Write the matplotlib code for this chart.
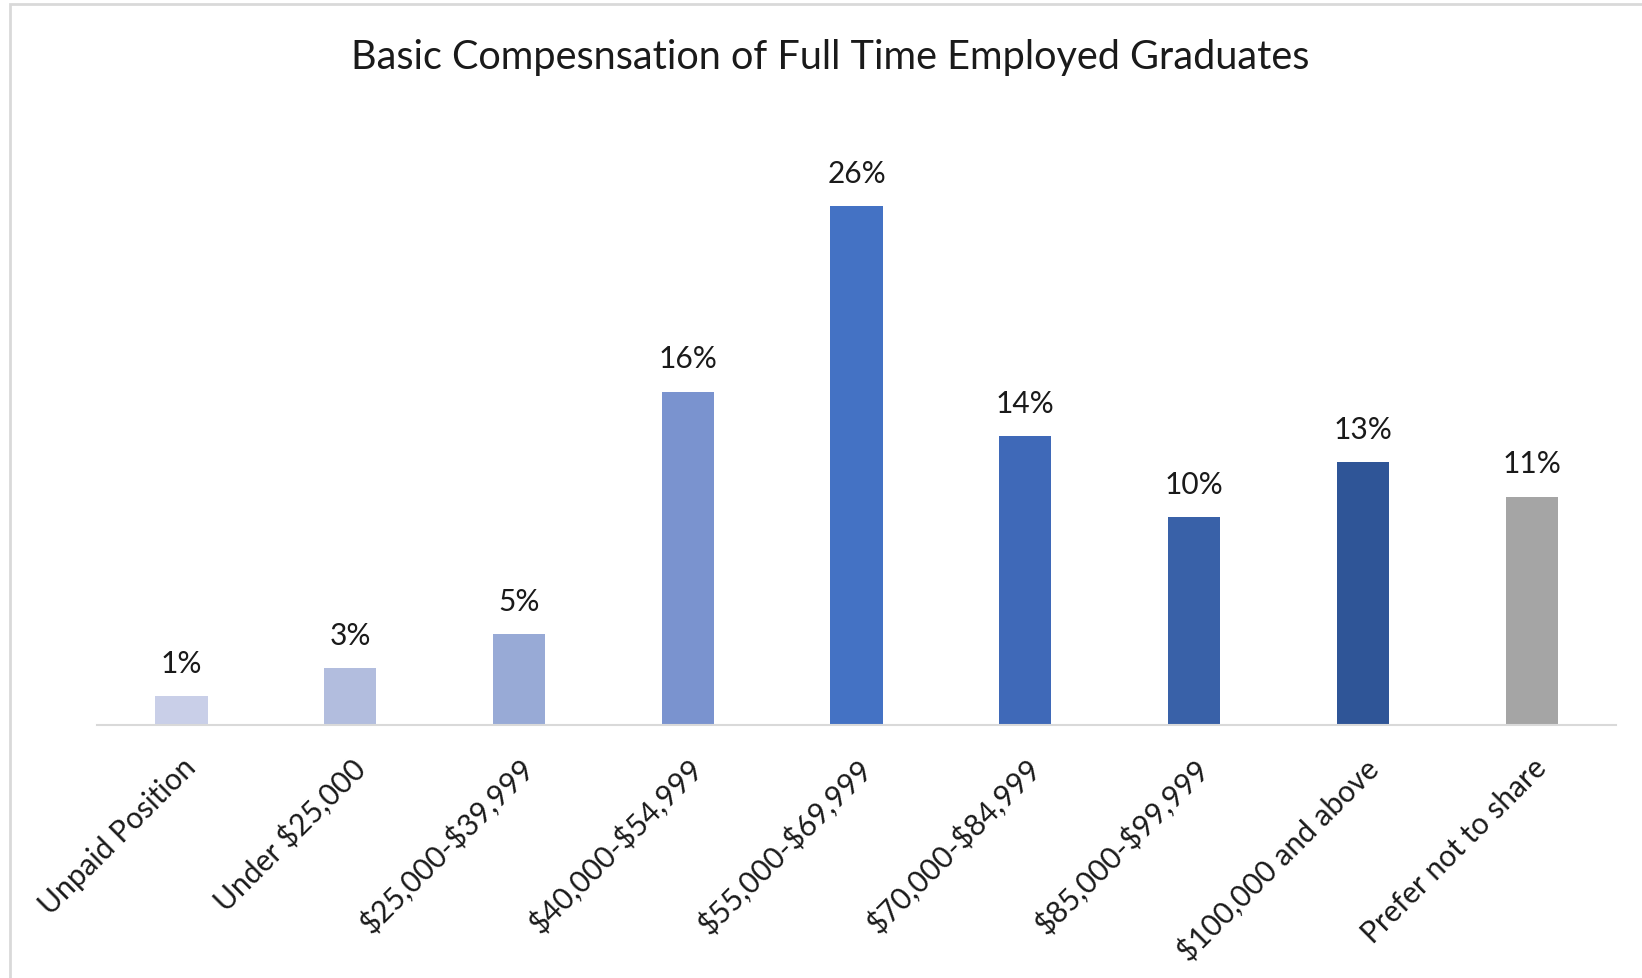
import matplotlib.pyplot as plt
from matplotlib.patches import Rectangle

categories = ["Unpaid Position", "Under $25,000", "$25,000-$39,999", "$40,000-$54,999",
              "$55,000-$69,999", "$70,000-$84,999", "$85,000-$99,999",
              "$100,000 and above", "Prefer not to share"]
values = [1.4, 2.8, 4.5, 16.5, 25.7, 14.3, 10.3, 13.0, 11.3]
value_labels = ["1%", "3%", "5%", "16%", "26%", "14%", "10%", "13%", "11%"]
colors = ["#c9cfe8", "#b2bdde", "#98aad6", "#7a93cf", "#4472c4",
          "#3f69b8", "#3961a8", "#2f5597", "#a5a5a5"]

plt.rcParams['font.family'] = ['Lato', 'DejaVu Sans']
plt.rcParams['text.parse_math'] = False

fig = plt.figure(figsize=(16.42, 9.79), dpi=100)
ax = fig.add_axes([0.0591, 0.2587, 0.9842 - 0.0591, 0.8774 - 0.2587])

x = range(len(categories))
bars = ax.bar(x, values, width=0.31, color=colors)

for b, lab in zip(bars, value_labels):
    ax.text(b.get_x() + b.get_width() / 2, b.get_height() + 0.95, lab,
            ha='center', va='bottom', fontsize=21.5, color='#1a1a1a')

ax.set_xlim(-0.5, len(categories) - 0.5)
ax.set_ylim(0, 30)
ax.set_yticks([])
ax.set_xticks(list(x))
ax.set_xticklabels(categories, rotation=45, ha='right', rotation_mode='anchor',
                   fontsize=21.5, color='#1a1a1a')
ax.tick_params(axis='x', length=0, pad=20)
for s in ['top', 'right', 'left']:
    ax.spines[s].set_visible(False)
ax.spines['bottom'].set_color('#d9d9d9')
ax.spines['bottom'].set_linewidth(1.5)

fig.text(830 / 1642, 1 - 58 / 979, "Basic Compesnsation of Full Time Employed Graduates",
         ha='center', va='center', fontsize=28.5, color='#1a1a1a')

# outer chart border
fig.patches.append(Rectangle((10 / 1642, -0.1), 1.2, 1.1 - 5 / 979,
                             transform=fig.transFigure, fill=False,
                             edgecolor='#d9d9d9', linewidth=2))

fig.savefig("out.png", dpi=100)
